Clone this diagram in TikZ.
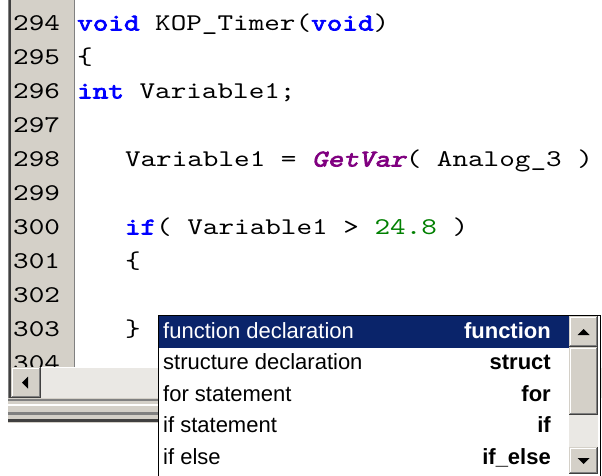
\documentclass[tikz,border=0pt]{standalone}
\usepackage{fontspec}
\setmainfont{Liberation Sans}
\newfontfamily\codefont{lmmono10-regular}[Extension=.otf,
  FakeStretch=1.238,
  BoldFont=lmmono10-regular, BoldFeatures={FakeBold=3},
  ItalicFont=lmmono10-regular, ItalicFeatures={FakeSlant=0.22},
  BoldItalicFont=lmmono10-regular, BoldItalicFeatures={FakeBold=3,FakeSlant=0.22}]
\definecolor{winface}{HTML}{D4D0C8}
\definecolor{winshadow}{HTML}{808080}
\definecolor{windark}{HTML}{404040}
\definecolor{kwblue}{HTML}{0000FF}
\definecolor{fnpurple}{HTML}{800080}
\definecolor{numgreen}{HTML}{008000}
\definecolor{selnavy}{HTML}{0A246A}
\definecolor{trackcol}{HTML}{EAE8E4}
\newcommand\kw[1]{\textcolor{kwblue}{\bfseries #1}}
\newcommand\winbtn[4]{%
  \fill[winface] (#1,#2) rectangle (#3,#4);
  \draw[windark,line width=1] (#1,#4-0.5) -- (#3-0.5,#4-0.5) -- (#3-0.5,#2);
  \draw[winshadow,line width=1] (#1+1,#4-1.5) -- (#3-1.5,#4-1.5) -- (#3-1.5,#2+1);
  \draw[white,line width=1] (#1+1.5,#4-2) -- (#1+1.5,#2+1.5) -- (#3-2,#2+1.5);
}
\tikzset{
  code/.style={anchor=base west, inner sep=0pt, font=\codefont\fontsize{24}{24}\selectfont},
  poptext/.style={anchor=base west, inner sep=0pt, font=\fontsize{22}{22}\selectfont},
  popkey/.style={anchor=base east, inner sep=0pt, font=\fontsize{22}{22}\selectfont\bfseries},
}
\begin{document}
\begin{tikzpicture}[x=1pt,y=-1pt]
\useasboundingbox (0,0) rectangle (602,476);
\fill[white] (0,0) rectangle (602,476);
% gutter
\fill[winface] (8,0) rectangle (75,367);
\draw[winshadow,line width=1.5] (8.25,0) -- (8.25,398);
\draw[windark,line width=1.5] (9.75,0) -- (9.75,398);
\draw[winshadow,line width=1.5] (74.5,0) -- (74.5,367);
% line numbers
\foreach \n [count=\i from 0] in {294,...,304} {
  \node[code] (ln\n) at (13,30.5+34*\i) {\n};
}
% code
\node[code] (c294) at (77,30.5) {\kw{void} KOP\_Timer(\kw{void})};
\node[code] (c295) at (77,64.5) {\{};
\node[code] (c296) at (77,98.5) {\kw{int} Variable1;};
\node[code] (c298) at (124.8,166.5) {Variable1 = \textcolor{fnpurple}{\bfseries\itshape GetVar}( Analog\_3 )};
\node[code] (c300) at (124.8,234.5) {\kw{if}( Variable1 > \textcolor{numgreen}{24.8} )};
\node[code] (c301) at (124.8,268.5) {\{};
\node[code] (c303) at (124.8,336.5) {\}};
% horizontal scrollbar
\fill[trackcol] (10.5,367) rectangle (602,398);
\draw[white,line width=1] (10.5,367.5) -- (602,367.5);
\winbtn{10.5}{367}{41}{398}
\fill[black] (22,382.5) -- (28,376.5) -- (28,388.5) -- cycle;
% splitter bands
\fill[winface] (8,398) rectangle (160,423);
\draw[winshadow,line width=2] (8,400) -- (160,400);
\draw[white,line width=2] (8,405) -- (160,405);
\draw[winshadow,line width=3] (8,413) -- (160,413);
\draw[windark,line width=3] (8,420) -- (160,420);
% popup
\draw[black,line width=1,fill=white] (158.5,315.5) rectangle (600.5,480);
\fill[selnavy] (159,316) rectangle (569,348);
\foreach \t/\k [count=\i from 0] in {function declaration/function,structure declaration/struct,for statement/for,if statement/if,if else/if\_else} {
  \ifnum\i=0
    \node[poptext,text=white] (pl\i) at (163,338+31.6*\i) {\t};
    \node[popkey,text=white] (pk\i) at (551,338+31.6*\i) {\k};
  \else
    \node[poptext] (pl\i) at (163,338+31.6*\i) {\t};
    \node[popkey] (pk\i) at (551,338+31.6*\i) {\k};
  \fi
}
% popup scrollbar
\fill[trackcol] (569,316) rectangle (598,474);
\winbtn{569}{316}{598}{347}
\fill[black] (577.5,335) -- (583.5,329) -- (589.5,335) -- cycle;
\winbtn{569}{347}{598}{415}
\winbtn{569}{447}{598}{474}
\fill[black] (577.5,458) -- (583.5,464) -- (589.5,458) -- cycle;
\end{tikzpicture}
\end{document}
